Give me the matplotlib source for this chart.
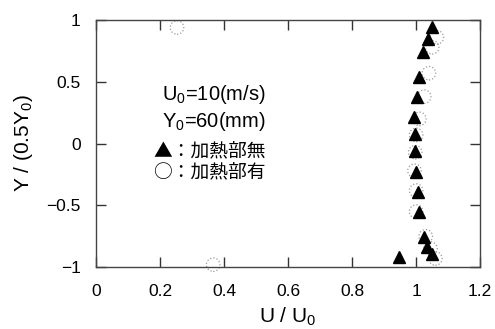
import matplotlib
matplotlib.use("Agg")
import matplotlib.pyplot as plt

plt.rcParams['font.family'] = ['Liberation Sans', 'Noto Sans CJK JP', 'DejaVu Sans']
plt.rcParams['mathtext.fontset'] = 'custom'
plt.rcParams['mathtext.rm'] = 'Liberation Sans'

# 加熱部無 (triangles)
u_off = [1.05, 1.038, 1.022, 1.009, 1.003, 0.994, 0.997, 0.997, 1.0, 1.006, 1.009, 1.025, 1.034, 1.05, 0.947]
y_off = [0.94, 0.85, 0.74, 0.54, 0.38, 0.215, 0.077, -0.061, -0.231, -0.393, -0.555, -0.757, -0.838, -0.895, -0.919]

# 加熱部有 (circles)
u_on = [0.253, 1.065, 1.05, 1.04, 1.025, 1.01, 1.0, 0.997, 0.995, 1.0, 1.0, 1.03, 1.045, 1.06, 0.366]
y_on = [0.94, 0.86, 0.78, 0.57, 0.38, 0.2, 0.07, -0.07, -0.22, -0.38, -0.55, -0.75, -0.85, -0.93, -0.98]

xticks = [0, 0.2, 0.4, 0.6, 0.8, 1, 1.2]
xticklabels = ["0", "0.2", "0.4", "0.6", "0.8", "1", "1.2"]
yticks = [-1, -0.5, 0, 0.5, 1]
yticklabels = ["\u22121", "\u22120.5", "0", "0.5", "1"]

fig = plt.figure(figsize=(4.95, 3.29), dpi=100)
ax = fig.add_axes([0.194, 0.188, 0.776, 0.751])

# circles: light grey dotted outlines
ax.scatter(u_on, y_on, s=95, marker="o", facecolors="none",
           edgecolors="#9a9a9a", linewidths=0.9, linestyles=":", clip_on=False, zorder=2)
ax.plot(u_off, y_off, linestyle="none", marker="^", ms=9, color="black", zorder=3)

ax.set_xlim(0, 1.2)
ax.set_ylim(-1, 1)
ax.set_xticks(xticks)
ax.set_xticklabels(xticklabels)
ax.set_yticks(yticks)
ax.set_yticklabels(yticklabels)
ax.tick_params(direction="in", length=7, width=1, top=True, right=True,
               labelsize=12.5, colors="#333333", labelcolor="black")
ax.tick_params(axis="x", pad=12)
ax.tick_params(axis="y", pad=11)
for s in ax.spines.values():
    s.set_color("#444444")
    s.set_linewidth(1)

ax.set_xlabel(r"U / U$\mathregular{_0}$", fontsize=15, labelpad=5)
ax.set_ylabel(r"Y / (0.5Y$\mathregular{_0}$)", fontsize=15, labelpad=8)

ax.text(0.206, 0.40, r"U$\mathregular{_0}$=10(m/s)", fontsize=14.5, va="center")
ax.text(0.206, 0.18, r"Y$\mathregular{_0}$=60(mm)", fontsize=14.5, va="center")
jp = ['Noto Sans CJK JP', 'DejaVu Sans']
ax.text(0.178, -0.06, "▲：加熱部無", fontsize=13.5, va="center", family=jp)
ax.text(0.178, -0.225, "○：加熱部有", fontsize=13.5, va="center", family=jp)

fig.savefig("out.png", dpi=100)
